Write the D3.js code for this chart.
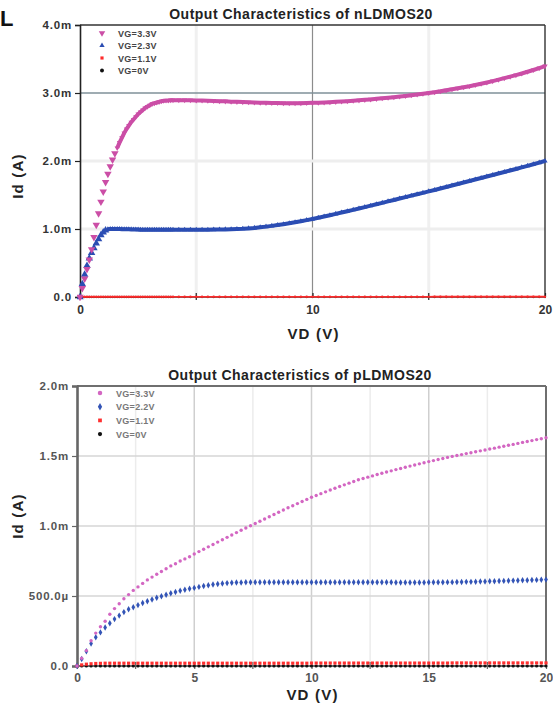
<!DOCTYPE html>
<html>
<head>
<meta charset="utf-8">
<script src="https://cdn.jsdelivr.net/npm/d3@7"></script>
<style>
  body { margin: 0; background: #fff; }
  svg { display: block; font-family: "Liberation Sans", Arial, sans-serif; }
</style>
</head>
<body>
<div id="chart"></div>
<script>
// ---- nLDMOS20 (values in mA) ----
const vdN = [0,0.1,0.2,0.3,0.4,0.5,0.6,0.7,0.8,0.9,1,1.1,1.2,1.3,1.4,1.5,1.6,1.7,1.8,1.9,2,2.1,2.2,2.3,2.4,2.5,2.6,2.7,2.8,2.9,3,3.1,3.2,3.3,3.4,3.5,3.6,3.7,3.8,3.9,4,
  4.25,4.5,4.75,5,5.25,5.5,5.75,6,6.25,6.5,6.75,7,7.25,7.5,7.75,8,8.25,8.5,8.75,9,9.25,9.5,9.75,10,
  10.25,10.5,10.75,11,11.25,11.5,11.75,12,12.25,12.5,12.75,13,13.25,13.5,13.75,14,14.25,14.5,14.75,15,
  15.25,15.5,15.75,16,16.25,16.5,16.75,17,17.25,17.5,17.75,18,18.25,18.5,18.75,19,19.25,19.5,19.75,20];
const idN33 = [0,0.13,0.27,0.41,0.55,0.70,0.88,1.06,1.23,1.40,1.55,1.69,1.81,1.92,2.02,2.11,2.19,2.27,2.34,2.41,
  2.47,2.52,2.57,2.61,2.65,2.69,2.72,2.75,2.78,2.80,2.82,2.84,2.85,2.86,2.87,2.88,2.885,2.89,2.89,2.895,2.895,
  2.895,2.895,2.893,2.89, 2.889,2.887,2.884,2.88, 2.877,2.873,2.87,2.866, 2.863,2.86,2.858,2.855,
  2.853,2.852,2.851,2.85, 2.85,2.851,2.853,2.855, 2.858,2.861,2.865,2.87, 2.875,2.88,2.886,2.892,
  2.899,2.906,2.914,2.922, 2.93,2.939,2.948,2.957, 2.967,2.977,2.988,3.0, 3.012,3.025,3.04,3.055,
  3.07,3.085,3.10,3.118, 3.136,3.155,3.175,3.196, 3.218,3.24,3.263,3.287, 3.312,3.338,3.366,3.395];
const idN23 = [0,0.19,0.33,0.46,0.57,0.65,0.72,0.79,0.85,0.91,0.95,0.98,0.995,1.0,1.0,1.0,1.0,0.999,0.998,0.997,
  0.996,0.995,0.994,0.993,0.992,0.991,0.99,0.99,0.99,0.99,0.99,0.99,0.99,0.99,0.99,0.99,0.99,0.99,0.99,0.99,0.99,
  0.99,0.99,0.99,0.99, 0.99,0.99,0.991,0.992, 0.994,0.996,0.999,1.003, 1.009,1.016,1.025,1.035,
  1.046,1.058,1.071,1.085, 1.1,1.115,1.131,1.148, 1.166,1.184,1.203,1.222, 1.242,1.262,1.282,1.302,
  1.322,1.343,1.364,1.385, 1.406,1.427,1.448,1.469, 1.49,1.511,1.532,1.553, 1.574,1.596,1.618,1.64,
  1.662,1.684,1.706,1.728, 1.75,1.772,1.794,1.816, 1.838,1.86,1.883,1.906, 1.929,1.952,1.976,2.0];
const idN11 = [0,0.002,0.003,0.004,0.004,0.004,0.004,0.004,0.004,0.004,0.004,0.004,0.004,0.004,0.004,0.004,0.004,0.004,0.004,0.004,
  0.004,0.004,0.004,0.004,0.004,0.004,0.004,0.004,0.004,0.004,0.004,0.004,0.004,0.004,0.004,0.004,0.004,0.004,0.004,0.004,0.004,
  0.004,0.004,0.004,0.004, 0.004,0.004,0.004,0.004, 0.004,0.004,0.004,0.004, 0.004,0.004,0.004,0.004,
  0.004,0.004,0.004,0.004, 0.004,0.004,0.004,0.004, 0.004,0.004,0.004,0.004, 0.004,0.004,0.004,0.004,
  0.004,0.004,0.004,0.004, 0.004,0.004,0.004,0.004, 0.004,0.004,0.004,0.004, 0.005,0.005,0.005,0.005,
  0.005,0.005,0.005,0.005, 0.005,0.005,0.005,0.005, 0.005,0.005,0.005,0.005, 0.005,0.005,0.005,0.005];
const idN0 = [0,0,0,0,0,0,0,0,0,0,0,0,0,0,0,0,0,0,0,0,
  0,0,0,0,0,0,0,0,0,0,0,0,0,0,0,0,0,0,0,0,0,
  0,0,0,0, 0,0,0,0, 0,0,0,0, 0,0,0,0, 0,0,0,0, 0,0,0,0, 0,0,0,0, 0,0,0,0,
  0,0,0,0, 0,0,0,0, 0,0,0,0, 0,0,0,0, 0,0,0,0, 0,0,0,0, 0,0,0,0, 0,0,0,0];
const nLegend = ["VG=3.3V", "VG=2.3V", "VG=1.1V", "VG=0V"];
const nXTicks = [0, 10, 20];
const nXMinor = [5, 15];
const nYTicks = [0, 1, 2, 3, 4];
const nYLabels = ["0.0", "1.0m", "2.0m", "3.0m", "4.0m"];

// ---- pLDMOS20 (values in mA) ----
const vdP = [0,0.2,0.4,0.6,0.8,1,1.2,1.4,1.6,1.8,2,2.2,2.4,2.6,2.8,3,3.2,3.4,3.6,3.8,
  4,4.2,4.4,4.6,4.8,5,5.2,5.4,5.6,5.8,6,6.2,6.4,6.6,6.8,7,7.2,7.4,7.6,7.8,
  8,8.2,8.4,8.6,8.8,9,9.2,9.4,9.6,9.8,10,10.2,10.4,10.6,10.8,11,11.2,11.4,11.6,11.8,
  12,12.2,12.4,12.6,12.8,13,13.2,13.4,13.6,13.8,14,14.2,14.4,14.6,14.8,15,15.2,15.4,15.6,15.8,
  16,16.2,16.4,16.6,16.8,17,17.2,17.4,17.6,17.8,18,18.2,18.4,18.6,18.8,19,19.2,19.4,19.6,19.8,20];
const idP33 = [0,0.055,0.11,0.18,0.235,0.28,0.32,0.37,0.41,0.445,
  0.48,0.51,0.54,0.565,0.59,0.615,0.635,0.655,0.675,0.695,
  0.715,0.73,0.75,0.765,0.78,0.80,0.817,0.834,0.851,0.868,
  0.885,0.902,0.919,0.936,0.953,0.97,0.986,1.002,1.018,1.034,
  1.05,1.066,1.082,1.098,1.114,1.13,1.145,1.16,1.175,1.19,
  1.205,1.218,1.231,1.244,1.257,1.27,1.282,1.294,1.306,1.318,
  1.33,1.339,1.349,1.358,1.368,1.377,1.386,1.394,1.403,1.411,
  1.42,1.428,1.436,1.444,1.452,1.46,1.467,1.475,1.482,1.49,
  1.497,1.504,1.51,1.517,1.523,1.53,1.537,1.543,1.55,1.556,
  1.563,1.57,1.577,1.583,1.59,1.597,1.604,1.61,1.617,1.623,
  1.63];
const idP22 = [0,0.05,0.105,0.16,0.205,0.24,0.275,0.305,0.335,0.36,
  0.385,0.405,0.42,0.435,0.45,0.462,0.475,0.487,0.498,0.509,
  0.519,0.529,0.537,0.545,0.552,0.558,0.565,0.571,0.577,0.582,
  0.586,0.589,0.592,0.594,0.596,0.597,0.598,0.598,0.598,0.598,
  0.598,0.598,0.598,0.598,0.598,0.598,0.598,0.598,0.598,0.598,
  0.598,0.598,0.598,0.598,0.598,0.598,0.598,0.598,0.598,0.598,
  0.598,0.598,0.598,0.598,0.598,0.598,0.598,0.598,0.597,0.597,
  0.597,0.597,0.597,0.597,0.597,0.598,0.598,0.598,0.598,0.599,
  0.599,0.6,0.6,0.601,0.601,0.602,0.603,0.604,0.605,0.606,
  0.607,0.608,0.609,0.61,0.611,0.612,0.613,0.614,0.615,0.616,
  0.617];
const idP11 = [0,0.008,0.013,0.016,0.018,0.019,0.02,0.02,0.02,0.02,
  0.02,0.02,0.02,0.02,0.02,0.02,0.02,0.02,0.02,0.02,
  0.02,0.02,0.02,0.02,0.02,0.02,0.02,0.02,0.02,0.02,
  0.02,0.02,0.02,0.02,0.02,0.02,0.02,0.02,0.02,0.02,
  0.02,0.02,0.02,0.02,0.02,0.02,0.02,0.02,0.02,0.02,
  0.021,0.021,0.021,0.021,0.021,0.021,0.021,0.021,0.021,0.021,
  0.021,0.021,0.021,0.021,0.021,0.021,0.021,0.021,0.021,0.021,
  0.021,0.021,0.021,0.021,0.021,0.021,0.021,0.021,0.021,0.021,
  0.022,0.022,0.022,0.022,0.022,0.022,0.022,0.022,0.022,0.022,
  0.022,0.022,0.022,0.022,0.022,0.022,0.022,0.022,0.022,0.022,
  0.022];
const idP0 = [0,0,0,0,0,0,0,0,0,0, 0,0,0,0,0,0,0,0,0,0, 0,0,0,0,0,0,0,0,0,0,
  0,0,0,0,0,0,0,0,0,0, 0,0,0,0,0,0,0,0,0,0, 0,0,0,0,0,0,0,0,0,0,
  0,0,0,0,0,0,0,0,0,0, 0,0,0,0,0,0,0,0,0,0, 0,0,0,0,0,0,0,0,0,0,
  0,0,0,0,0,0,0,0,0,0, 0];
const pLegend = ["VG=3.3V", "VG=2.2V", "VG=1.1V", "VG=0V"];
const pXTicks = [0, 5, 10, 15, 20];
const pXMinor = [2.5, 7.5, 12.5, 17.5];
const pYTicks = [0, 0.5, 1, 1.5, 2];
const pYLabels = ["0.0", "500.0\u00b5", "1.0m", "1.5m", "2.0m"];

const W = 553, H = 709;
const svg = d3.select("#chart").append("svg").attr("width", W).attr("height", H);

// cropped glyph at the top-left corner
svg.append("text").attr("x", 0).attr("y", 26)
    .attr("font-size", 22).attr("font-weight", "bold").attr("fill", "#111").text("L");

function zipSeries(vd, id) {
    return vd.map((v, i) => ({ vd: v, id: id[i] })).filter(d => d.id !== undefined);
}

function panel(cfg) {
    const x = d3.scaleLinear().domain([0, 20]).range([cfg.left, cfg.right]);
    const y = d3.scaleLinear().domain(cfg.yDomain).range([cfg.bottom, cfg.top]);
    const g = svg.append("g");

    // grid
    g.selectAll(".vminor").data(cfg.xMinor).enter().append("line")
        .attr("x1", d => x(d)).attr("x2", d => x(d))
        .attr("y1", cfg.top).attr("y2", cfg.bottom)
        .attr("stroke", cfg.gridMinor).attr("stroke-width", cfg.gridMinorW);
    g.selectAll(".vmajor").data(cfg.xTicks.slice(1, -1)).enter().append("line")
        .attr("x1", d => x(d)).attr("x2", d => x(d))
        .attr("y1", cfg.top).attr("y2", cfg.bottom)
        .attr("stroke", cfg.gridV).attr("stroke-width", cfg.gridVW);
    g.selectAll(".hgrid").data(cfg.yTicks.slice(1, -1)).enter().append("line")
        .attr("x1", cfg.left).attr("x2", cfg.right)
        .attr("y1", d => y(d)).attr("y2", d => y(d))
        .attr("stroke", d => d === cfg.hStrong ? cfg.hStrongColor : cfg.gridH)
        .attr("stroke-width", d => d === cfg.hStrong ? 1.3 : cfg.gridHW);

    // frame
    g.append("line").attr("x1", cfg.left).attr("x2", cfg.right).attr("y1", cfg.top).attr("y2", cfg.top)
        .attr("stroke", cfg.frame).attr("stroke-width", cfg.frameW);
    g.append("line").attr("x1", cfg.right).attr("x2", cfg.right).attr("y1", cfg.top).attr("y2", cfg.bottom)
        .attr("stroke", cfg.frame).attr("stroke-width", cfg.frameW);
    g.append("line").attr("x1", cfg.left).attr("x2", cfg.right).attr("y1", cfg.bottom).attr("y2", cfg.bottom)
        .attr("stroke", cfg.frame).attr("stroke-width", cfg.frameW);

    // axes
    const yAxis = g.append("g").attr("transform", `translate(${cfg.left},0)`)
        .call(d3.axisLeft(y).tickValues(cfg.yTicks).tickFormat((d, i) => cfg.yLabels[i]).tickSize(5).tickPadding(3));
    yAxis.select(".domain").attr("stroke", cfg.axis).attr("stroke-width", cfg.axisW);
    yAxis.selectAll(".tick line").attr("stroke", cfg.axis).attr("stroke-width", 1.2);
    yAxis.selectAll("text").attr("font-size", 11.5).attr("font-weight", "bold")
        .attr("fill", cfg.label).attr("letter-spacing", 0.8).attr("font-family", "Liberation Sans, Arial, sans-serif");

    const xAxis = g.append("g").attr("transform", `translate(0,${cfg.bottom})`)
        .call(d3.axisBottom(x).tickValues(cfg.xTicks).tickFormat(d3.format("d")).tickSize(cfg.xTickSize).tickPadding(cfg.xTickPad));
    xAxis.select(".domain").remove();
    xAxis.selectAll(".tick line").attr("stroke", cfg.axis).attr("stroke-width", 1.2).attr("y1", -4);
    xAxis.selectAll("text").attr("font-size", 12).attr("font-weight", "bold")
        .attr("fill", cfg.label).attr("font-family", "Liberation Sans, Arial, sans-serif");
    g.selectAll(".xminor").data(cfg.xMinor).enter().append("line")
        .attr("x1", d => x(d)).attr("x2", d => x(d))
        .attr("y1", cfg.bottom - 4).attr("y2", cfg.bottom + 3)
        .attr("stroke", cfg.axis).attr("stroke-width", 1.2);

    // titles
    svg.append("text").attr("x", cfg.titleX).attr("y", cfg.titleY).attr("text-anchor", "middle")
        .attr("font-size", 14).attr("font-weight", "bold").attr("fill", "#222").attr("letter-spacing", 0.5)
        .text(cfg.title);
    svg.append("text").attr("x", (cfg.left + cfg.right) / 2 + 1).attr("y", cfg.xLabelY).attr("text-anchor", "middle")
        .attr("font-size", 15).attr("font-weight", "bold").attr("fill", "#222").attr("letter-spacing", 1.2)
        .text("VD (V)");
    svg.append("text").attr("transform", `translate(${cfg.yLabelX},${cfg.yLabelY}) rotate(-90)`)
        .attr("text-anchor", "middle").attr("font-size", 15).attr("font-weight", "bold")
        .attr("fill", "#222").attr("letter-spacing", 1.2).text("Id (A)");

    // data
    const clip = "clip" + cfg.id;
    svg.append("clipPath").attr("id", clip).append("rect")
        .attr("x", cfg.left - 3).attr("y", cfg.top).attr("width", cfg.right - cfg.left + 6).attr("height", cfg.bottom - cfg.top + 4);
    const plot = svg.append("g").attr("clip-path", `url(#${clip})`);

    cfg.series.slice().reverse().forEach(s => {
        const pts = zipSeries(cfg.vd, s.id);
        if (s.lineFrom !== undefined) {
            plot.append("path").datum(pts)
                .attr("fill", "none").attr("stroke", s.color).attr("stroke-width", s.lineW)
                .attr("d", d3.line().defined(d => d.vd >= s.lineFrom).x(d => x(d.vd)).y(d => y(d.id)));
        }
        plot.selectAll(null).data(pts).enter().append("path")
            .attr("transform", d => `translate(${x(d.vd)},${y(d.id)}) rotate(${s.rot || 0})`)
            .attr("d", d3.symbol().type(s.symbol).size(d => d.vd >= (s.lineFrom ?? 99) ? s.sizeOnLine : s.size))
            .attr("fill", s.color);
    });

    // legend
    cfg.legend.forEach((name, i) => {
        const s = cfg.series[i];
        const ly = cfg.legendY + i * cfg.legendStep;
        svg.append("path")
            .attr("transform", `translate(${cfg.legendX},${ly}) rotate(${s.rot || 0})`)
            .attr("d", d3.symbol().type(s.symbol).size(s.legendSize)).attr("fill", s.color);
        svg.append("text").attr("x", cfg.legendX + 16).attr("y", ly + 3.5)
            .attr("font-size", 9).attr("font-weight", "bold").attr("fill", cfg.legendText)
            .attr("letter-spacing", 0.3).text(name);
    });
}

panel({
    id: "n", left: 80, right: 545, top: 25, bottom: 297, yDomain: [0, 4],
    vd: vdN, xTicks: nXTicks, xMinor: nXMinor, yTicks: nYTicks, yLabels: nYLabels,
    gridMinor: "#f0f0f0", gridMinorW: 3, gridV: "#8c8c8c", gridVW: 1.2,
    gridH: "#eeeeee", gridHW: 3, hStrong: 3, hStrongColor: "#7f9098",
    frame: "#333", frameW: 1.4, axis: "#222", axisW: 1.6, label: "#333", xTickSize: 0, xTickPad: 8,
    title: "Output Characteristics of nLDMOS20", titleX: 301, titleY: 19,
    xLabelY: 339, yLabelX: 23, yLabelY: 176,
    legend: nLegend, legendX: 102, legendY: 33, legendStep: 12.5, legendText: "#444",
    series: [
        { id: idN33, color: "#cb4ea6", symbol: d3.symbolTriangle, rot: 180, size: 24, sizeOnLine: 12, legendSize: 18, lineFrom: 1.6, lineW: 4 },
        { id: idN23, color: "#2b4db3", symbol: d3.symbolTriangle, size: 24, sizeOnLine: 12, legendSize: 12, lineFrom: 1.2, lineW: 4 },
        { id: idN11, color: "#ff2b2b", symbol: d3.symbolSquare, size: 5, sizeOnLine: 4, legendSize: 10, lineFrom: 0, lineW: 1.6 },
        { id: idN0, color: "#111", symbol: d3.symbolCircle, size: 4, legendSize: 12 }
    ]
});

panel({
    id: "p", left: 77, right: 546, top: 386, bottom: 666, yDomain: [0, 2],
    vd: vdP, xTicks: pXTicks, xMinor: pXMinor, yTicks: pYTicks, yLabels: pYLabels,
    gridMinor: "#ececec", gridMinorW: 1.5, gridV: "#cfcfcf", gridVW: 1.5,
    gridH: "#d6d6d6", gridHW: 1.5, hStrong: null, hStrongColor: "#ccc",
    frame: "#6f6f6f", frameW: 2, axis: "#666", axisW: 2.6, label: "#555", xTickSize: 3, xTickPad: 4,
    title: "Output Characteristics of pLDMOS20", titleX: 300, titleY: 380,
    xLabelY: 700, yLabelX: 23, yLabelY: 516,
    legend: pLegend, legendX: 100, legendY: 393, legendStep: 13.7, legendText: "#777",
    series: [
        { id: idP33, color: "#d366c2", symbol: d3.symbolCircle, size: 9, legendSize: 16 },
        { id: idP22, color: "#3354b6", symbol: d3.symbolDiamond, size: 12, legendSize: 16 },
        { id: idP11, color: "#ff3030", symbol: d3.symbolSquare, size: 10, legendSize: 14 },
        { id: idP0, color: "#111", symbol: d3.symbolCircle, size: 8, legendSize: 14 }
    ]
});
</script>
</body>
</html>
